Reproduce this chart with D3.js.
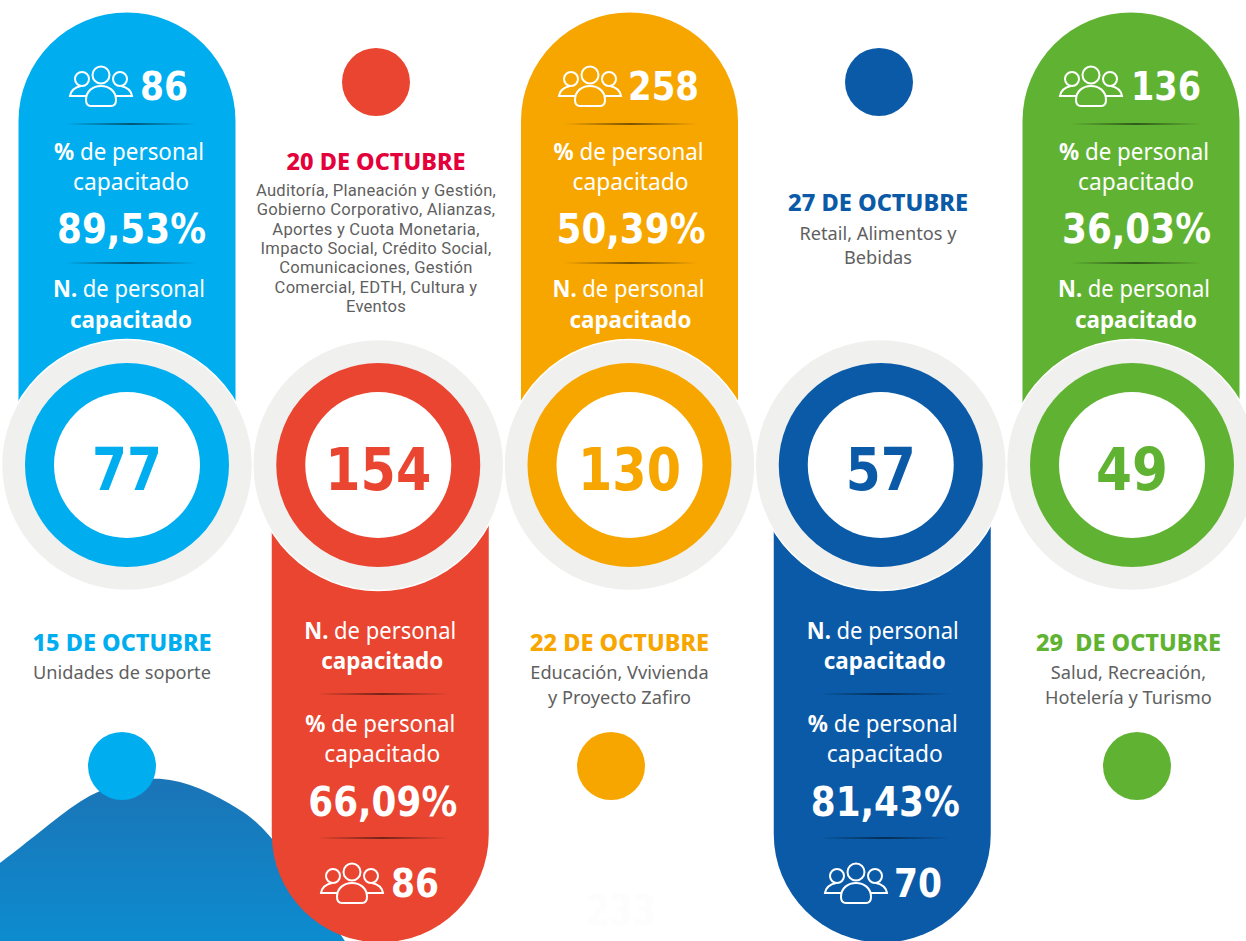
<!DOCTYPE html>
<html>
<head>
<meta charset="utf-8">
<script src="https://cdn.jsdelivr.net/npm/d3@7"></script>
<style>
html, body { margin: 0; background: #fff; }
svg { display: block; }
text { font-family: "Noto Sans", sans-serif; text-anchor: middle; }
.num { font-family: "DejaVu Sans", sans-serif; font-weight: 700; }
</style>
</head>
<body>
<svg id="chart" width="1246" height="941"></svg>
<script>
var dates = ["15 DE OCTUBRE", "20 DE OCTUBRE", "22 DE OCTUBRE", "27 DE OCTUBRE", "29  DE OCTUBRE"];
var areas = [
	["Unidades de soporte"],
	["Auditoría, Planeación y Gestión,", "Gobierno Corporativo, Alianzas,", "Aportes y Cuota Monetaria,", "Impacto Social, Crédito Social,", "Comunicaciones, Gestión", "Comercial, EDTH, Cultura y", "Eventos"],
	["Educación, Vvivienda", "y Proyecto Zafiro"],
	["Retail, Alimentos y", "Bebidas"],
	["Salud, Recreación,", "Hotelería y Turismo"]
];
var trained = [77, 154, 130, 57, 49];
var percents = ["89,53%", "66,09%", "50,39%", "81,43%", "36,03%"];
var people = [86, 86, 258, 70, 136];
var colors = ["#00aeef", "#e94530", "#f7a600", "#0a5aa8", "#60b332"];
var dateColors = ["#00aeef", "#e4003a", "#f7a600", "#0a5aa8", "#60b332"];
var hill = [[0, 863], [0, 863], [40, 832], [80, 799], [120, 782], [160, 776], [200, 787], [240, 809], [270, 831], [345, 941], [345, 941]];

var svg = d3.select("#chart");
var x = d3.scalePoint().domain(d3.range(5)).range([127, 1132]);

var defs = svg.append("defs");
var hillFill = defs.append("linearGradient").attr("id", "hillFill")
	.attr("x1", 0).attr("y1", 0).attr("x2", 0).attr("y2", 1);
hillFill.append("stop").attr("offset", 0).attr("stop-color", "#1b74b6");
hillFill.append("stop").attr("offset", 1).attr("stop-color", "#0c8ccf");
var ruleFill = defs.append("linearGradient").attr("id", "ruleFill");
ruleFill.append("stop").attr("offset", 0).attr("stop-color", "#000").attr("stop-opacity", 0);
ruleFill.append("stop").attr("offset", 0.5).attr("stop-color", "#000").attr("stop-opacity", 0.5);
ruleFill.append("stop").attr("offset", 1).attr("stop-color", "#000").attr("stop-opacity", 0);

svg.append("path")
	.attr("d", d3.line().curve(d3.curveBasis)(hill) + "L0,941Z")
	.attr("fill", "url(#hillFill)");

// near-white leftover number in the reference, under the orange dot
svg.append("text").attr("class", "num").attr("x", 621).attr("y", 925)
	.attr("font-size", 42).attr("fill", "#fdfdfd")
	.attr("textLength", 70).attr("lengthAdjust", "spacingAndGlyphs").text("233");

function isUp(i) { return i % 2 == 0; }

// pill behind each ring, up for odd columns and down for even ones
var pillShift = [0, 2, 0, 1.5, -1];
svg.selectAll(".pill").data(d3.range(5)).enter().append("path")
	.attr("class", "pill")
	.attr("fill", function(i) { return colors[i]; })
	.attr("d", function(i) {
		var c = x(i) + pillShift[i], r = 108.5;
		if (isUp(i)) return "M" + (c - r) + ",420V121A" + r + "," + r + " 0 0 1 " + (c + r) + ",121V420Z";
		return "M" + (c - r) + ",500V834A" + r + "," + r + " 0 0 0 " + (c + r) + ",834V500Z";
	});

// lone dots on the opposite side of each pill
var dotX = [122, 376, 611, 879, 1137];
svg.selectAll(".dot").data(d3.range(5)).enter().append("circle")
	.attr("class", "dot")
	.attr("cx", function(i) { return dotX[i]; })
	.attr("cy", function(i) { return isUp(i) ? 766 : 82; })
	.attr("r", 34)
	.attr("fill", function(i) { return colors[i]; });

var ringLen = [70, 106, 103, 70, 72];
var rings = svg.selectAll(".ring").data(d3.range(5)).enter().append("g")
	.attr("class", "ring")
	.attr("transform", function(i) { return "translate(" + x(i) + ",465)"; });
rings.append("circle").attr("r", 125.5).attr("fill", "#f0f0ef").attr("stroke", "#fff").attr("stroke-width", 1.5);
rings.append("circle").attr("r", 102).attr("fill", function(i) { return colors[i]; });
rings.append("circle").attr("r", 73).attr("fill", "#fff");
rings.append("text")
	.attr("class", "num")
	.attr("y", 25)
	.attr("font-size", 58)
	.attr("fill", function(i) { return colors[i]; })
	.attr("textLength", function(i) { return ringLen[i]; })
	.attr("lengthAdjust", "spacingAndGlyphs")
	.text(function(i) { return trained[i]; });

function peopleIcon(g, px, py) {
	var icon = g.append("g")
		.attr("transform", "translate(" + px + "," + py + ")")
		.attr("fill", "none").attr("stroke", "#fff").attr("stroke-width", 2);
	icon.append("circle").attr("cx", 13).attr("cy", 13).attr("r", 7);
	icon.append("circle").attr("cx", 51).attr("cy", 13).attr("r", 7);
	icon.append("circle").attr("cx", 32).attr("cy", 9).attr("r", 8.5);
	icon.append("path").attr("d", "M17,30H1C2,24 7,21 12,20");
	icon.append("path").attr("d", "M47,30H63C62,24 57,21 52,20");
	icon.append("path").attr("d", "M17,34C17,25 24,20 32,20C40,20 47,25 47,34C47,38 45,40 42,40H22C19,40 17,38 17,34Z");
}

function label(g, cx, y, parts, size, len) {
	var t = g.append("text").attr("x", cx).attr("y", y).attr("font-size", size).attr("fill", "#fff");
	parts.forEach(function(p) {
		t.append("tspan").attr("font-weight", p[1] ? 700 : 400).text(p[0]);
	});
	if (len) t.attr("textLength", len).attr("lengthAdjust", "spacingAndGlyphs");
	return t;
}

function bigNumber(g, cx, y, text, size, len) {
	return g.append("text").attr("class", "num").attr("x", cx).attr("y", y)
		.attr("font-size", size).attr("fill", "#fff")
		.attr("textLength", len).attr("lengthAdjust", "spacingAndGlyphs").text(text);
}

function rule(g, cx, y) {
	g.append("rect").attr("x", cx - 66).attr("y", y - 1).attr("width", 132).attr("height", 2).attr("fill", "url(#ruleFill)");
}

// pill content, top to bottom: ys differ between the up and down pills
var iconX = [69, 320, 558, 824, 1059];
var countX = [164, 415, 663.5, 918, 1166];
var countLen = [48, 48, 71, 48, 70];
var textShift = [0, 4, -3, 4, 0];
d3.range(5).forEach(function(i) {
	var g = svg.append("g"), c = x(i) + textShift[i];
	if (isUp(i)) {
		peopleIcon(g, iconX[i], 66);
		bigNumber(g, countX[i], 100, people[i], 39, countLen[i]);
		rule(g, c + 4, 124);
		label(g, c + 2, 160, [["%", 1], [" de personal", 0]], 24, 150);
		label(g, c + 4, 190, [["capacitado", 0]], 24, 116);
		bigNumber(g, c + 4.5, 243, percents[i], 41, 149);
		rule(g, c + 4, 263);
		label(g, c + 2, 297, [["N.", 1], [" de personal", 0]], 24, 152);
		label(g, c + 4, 328, [["capacitado", 1]], 24, 122);
	} else {
		label(g, c - 2, 639, [["N.", 1], [" de personal", 0]], 24, 152);
		label(g, c, 669, [["capacitado", 1]], 24, 122);
		rule(g, c, 694);
		label(g, c - 2, 732, [["%", 1], [" de personal", 0]], 24, 150);
		label(g, c, 762, [["capacitado", 0]], 24, 116);
		bigNumber(g, c + 0.5, 816, percents[i], 41, 149);
		rule(g, c, 838);
		peopleIcon(g, iconX[i], 863);
		bigNumber(g, countX[i], 897, people[i], 39, countLen[i]);
	}
});

// date headings and the areas under them
var dateY = [651, 170, 651, 211, 651];
var areaY = [679, 196, 679, 240, 679];
var areaStep = [25, 19.3, 25, 24, 25];
var areaSize = [18.2, 16.6, 18.2, 18.2, 18.2];
var areaFont = ["Noto Sans", "Roboto", "Noto Sans", "Noto Sans", "Noto Sans"];
var areaSpacing = [0, 0.25, 0, 0, 0];
var areaX = [122, 376, 619.5, 878, 1128.5];
var dateLen = [179, 179, 179, 180, 185];
d3.range(5).forEach(function(i) {
	svg.append("text").attr("x", areaX[i]).attr("y", dateY[i])
		.attr("font-size", 23).attr("font-weight", 800).attr("fill", dateColors[i])
		.attr("textLength", dateLen[i]).attr("lengthAdjust", "spacingAndGlyphs")
		.style("white-space", "pre").text(dates[i]);
	areas[i].forEach(function(line, j) {
		svg.append("text").attr("x", areaX[i]).attr("y", areaY[i] + j * areaStep[i])
			.attr("font-size", areaSize[i]).attr("fill", "#5f5f5f")
			.style("font-family", areaFont[i]).style("letter-spacing", areaSpacing[i] + "px").text(line);
	});
});
</script>
</body>
</html>
